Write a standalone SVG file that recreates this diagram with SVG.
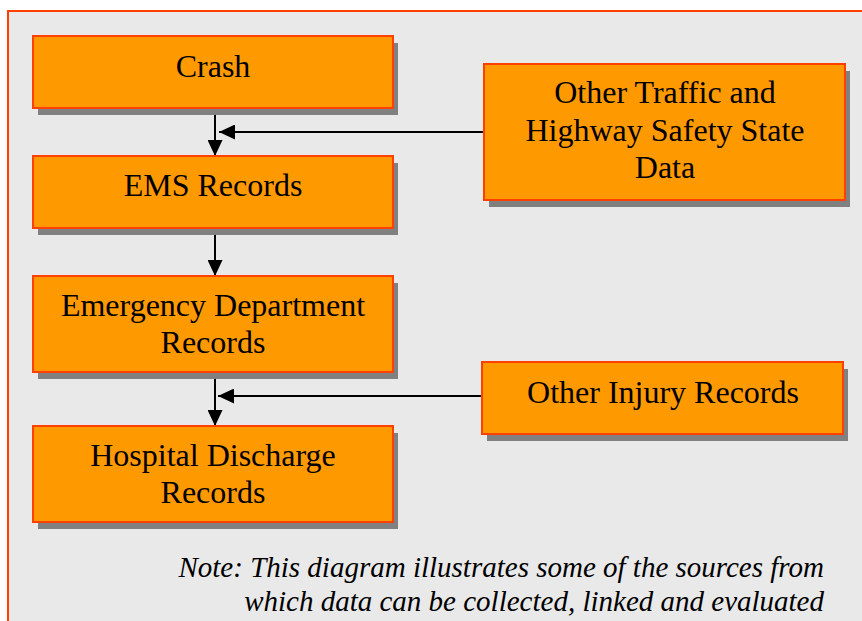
<svg xmlns="http://www.w3.org/2000/svg" width="862" height="621" viewBox="0 0 862 621">
<style>
.box{fill:#FF9900;stroke:#FF4000;stroke-width:2}
.sh{fill:#808080}
.t{font-size:32px;fill:#000;text-anchor:middle}
.note{font-size:29px;font-style:italic;fill:#000;text-anchor:end}
.c{stroke:#000;stroke-width:2;fill:none;marker-end:url(#ah)}
</style>
<defs>
<marker id="ah" markerUnits="userSpaceOnUse" viewBox="0 0 16 15" refX="16" refY="7.5" markerWidth="16" markerHeight="15" orient="auto">
<path d="M0,0 L16,7.5 L0,15 z" fill="#000"/>
</marker>
</defs>
<rect x="8" y="11" width="880" height="700" fill="#E9E9E9" stroke="#FF4000" stroke-width="2"/>
<g id="connectors">
<line class="c" x1="215" y1="109" x2="215" y2="156"/>
<line class="c" x1="215" y1="229" x2="215" y2="276"/>
<line class="c" x1="215" y1="373" x2="215" y2="426"/>
<line class="c" x1="484" y1="132" x2="219" y2="132"/>
<line class="c" x1="482" y1="396" x2="218" y2="396"/>
</g>
<g font-family="Liberation Serif, Tinos, Times New Roman, DejaVu Serif, serif">
<g id="crash">
<rect class="sh" x="38" y="43" width="360" height="72"/>
<rect class="box" x="33" y="36" width="360" height="72"/>
<text class="t" x="213" y="77">Crash</text>
</g>
<g id="ems">
<rect class="sh" x="38" y="163" width="360" height="72"/>
<rect class="box" x="33" y="156" width="360" height="72"/>
<text class="t" x="213" y="196">EMS Records</text>
</g>
<g id="ed">
<rect class="sh" x="38" y="283" width="360" height="96"/>
<rect class="box" x="33" y="276" width="360" height="96"/>
<text class="t" x="213" y="316">Emergency Department</text>
<text class="t" x="213" y="353">Records</text>
</g>
<g id="hd">
<rect class="sh" x="38" y="433" width="360" height="96"/>
<rect class="box" x="33" y="426" width="360" height="96"/>
<text class="t" x="213" y="466">Hospital Discharge</text>
<text class="t" x="213" y="503">Records</text>
</g>
<g id="traffic">
<rect class="sh" x="489" y="71" width="361" height="136"/>
<rect class="box" x="484" y="64" width="361" height="136"/>
<text class="t" x="665" y="103">Other Traffic and</text>
<text class="t" x="665" y="141">Highway Safety State</text>
<text class="t" x="665" y="178">Data</text>
</g>
<g id="injury">
<rect class="sh" x="487" y="369" width="361" height="72"/>
<rect class="box" x="482" y="362" width="361" height="72"/>
<text class="t" x="663" y="403">Other Injury Records</text>
</g>
<g id="note">
<text class="note" x="824" y="577">Note: This diagram illustrates some of the sources from</text>
<text class="note" x="824" y="611">which data can be collected, linked and evaluated</text>
</g>
</g>
</svg>
